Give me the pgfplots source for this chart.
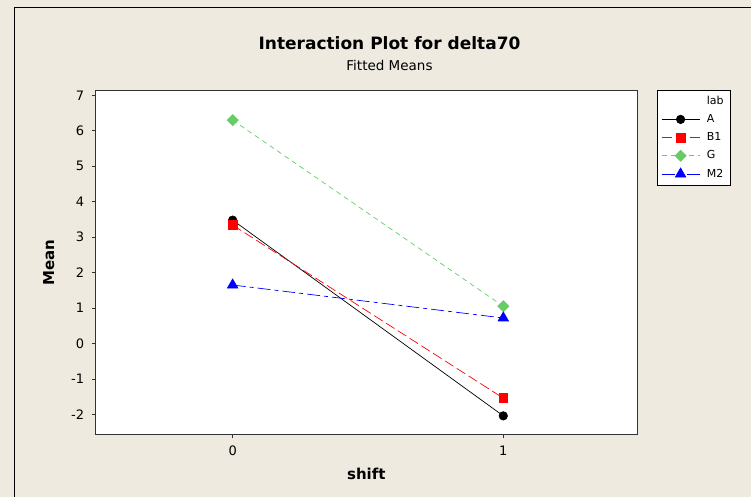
\documentclass[border=0pt]{standalone}
\usepackage{pgfplots}
\pgfplotsset{compat=1.18}
\usepackage{fontspec}
\setmainfont{DejaVu Sans}
\definecolor{bgc}{HTML}{EEEAE0}
\definecolor{gr}{HTML}{66CC66}
\begin{document}
\begin{tikzpicture}[x=1pt,y=1pt]
\path[use as bounding box, fill=bgc] (0,0) rectangle (751,497);
\draw[black, line width=1pt] (14,-5) |- (760,489);
\node[font=\bfseries\fontsize{17}{19}\selectfont] at (389.5,454) {Interaction Plot for delta70};
\node[font=\fontsize{13.5}{15}\selectfont] at (389.5,432) {Fitted Means};
\begin{axis}[
  at={(95.7pt,62.7pt)}, anchor=south west,
  scale only axis, width=541.3pt, height=343.6pt,
  xmin=-0.506, xmax=1.494, ymin=-2.56, ymax=7.13,
  xtick={0,1}, ytick={-2,...,7},
  tick align=outside, xtick pos=bottom, ytick pos=left,
  major tick length=4pt,
  axis background/.style={fill=white},
  axis line style={black!80, line width=0.8pt},
  tick style={black!80, line width=0.8pt},
  ticklabel style={font=\fontsize{13}{15}\selectfont},
  yticklabel style={xshift=-4pt},
  xticklabel style={yshift=-4pt},
  /pgf/number format/assume math mode=true,
  xlabel={\bfseries shift}, ylabel={\bfseries Mean},
  label style={font=\fontsize{15}{17}\selectfont},
  xlabel style={yshift=-6pt},
  ylabel style={yshift=10pt},
  legend style={at={(1.037,1.002)}, anchor=north west, draw=black, fill=white,
    font=\fontsize{11}{12}\selectfont, row sep=4.2pt, inner xsep=4pt, inner ysep=4pt,
    nodes={text height=8pt, text depth=2pt}, text width=17pt},
  legend cell align=left,
  legend image code/.code={\draw[mark repeat=2, mark phase=2, #1] plot coordinates {(0pt,0pt) (19pt,0pt) (38pt,0pt)}; \path (43pt,0pt);},
]
\addlegendimage{empty legend}
\addlegendentry{lab}
\addplot[black, line width=0.7pt, mark=*, mark size=4.2pt, mark options={solid}]
  coordinates {(0,3.48) (1,-2.04)};
\addlegendentry{A}
\addplot[red, line width=0.7pt, dash pattern=on 10pt off 4pt, mark=square*, mark size=4.3pt, mark options={solid}]
  coordinates {(0,3.34) (1,-1.54)};
\addlegendentry{B1}
\addplot[gr, line width=0.7pt, dash pattern=on 5pt off 4pt, mark=square*, mark size=3.9pt, mark options={solid, rotate=45}]
  coordinates {(0,6.30) (1,1.05)};
\addlegendentry{G}
\addplot[blue, line width=0.7pt, dash pattern=on 13pt off 4pt on 4pt off 4pt, mark=triangle*, mark size=6pt, mark options={solid}]
  coordinates {(0,1.65) (1,0.72)};
\addlegendentry{M2}
\end{axis}
\end{tikzpicture}
\end{document}
